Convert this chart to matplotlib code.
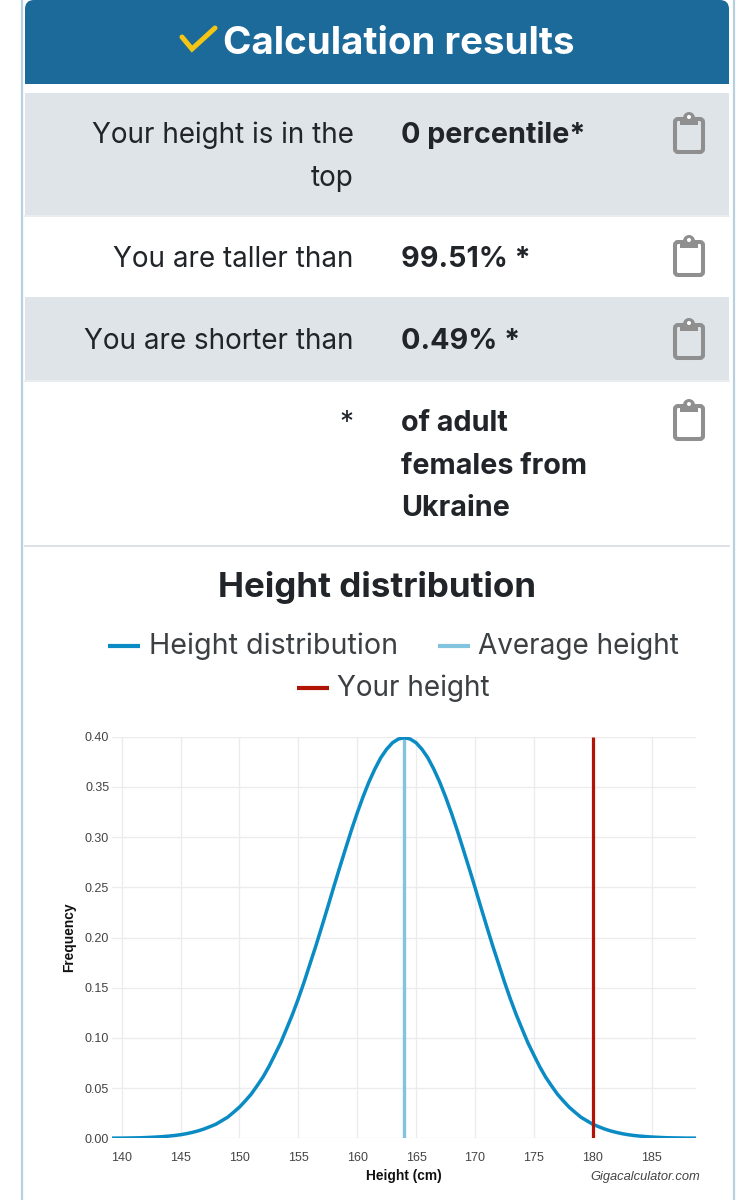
import matplotlib
matplotlib.use('Agg')
import matplotlib.pyplot as plt
from matplotlib.patches import Circle, FancyBboxPatch, Rectangle

# Curve values
heights = [139, 139.5, 140, 140.5, 141, 141.5, 142, 142.5, 143, 143.5, 144, 144.5, 145, 145.5,
           146, 146.5, 147, 147.5, 148, 148.5, 149, 149.5, 150, 150.5, 151, 151.5, 152, 152.5,
           153, 153.5, 154, 154.5, 155, 155.5, 156, 156.5, 157, 157.5, 158, 158.5, 159, 159.5,
           160, 160.5, 161, 161.5, 162, 162.5, 163, 163.5, 164, 164.5, 165, 165.5, 166, 166.5,
           167, 167.5, 168, 168.5, 169, 169.5, 170, 170.5, 171, 171.5, 172, 172.5, 173, 173.5,
           174, 174.5, 175, 175.5, 176, 176.5, 177, 177.5, 178, 178.5, 179, 179.5, 180, 180.5,
           181, 181.5, 182, 182.5, 183, 183.5, 184, 184.5, 185, 185.5, 186, 186.5, 187, 187.5,
           188, 188.5, 189]
frequency = [0.0001, 0.0002, 0.0002, 0.0003, 0.0004, 0.0005, 0.0007, 0.0010, 0.0013, 0.0017,
             0.0022, 0.0028, 0.0036, 0.0046, 0.0059, 0.0074, 0.0093, 0.0116, 0.0140, 0.0175,
             0.0210, 0.0259, 0.0310, 0.0373, 0.0440, 0.0523, 0.0610, 0.0713, 0.0830, 0.0950,
             0.1090, 0.1233, 0.1390, 0.1559, 0.1740, 0.1920, 0.2110, 0.2303, 0.2500, 0.2692,
             0.2880, 0.3066, 0.3240, 0.3402, 0.3550, 0.3678, 0.3790, 0.3875, 0.3940, 0.3977,
             0.3990, 0.3977, 0.3940, 0.3875, 0.3790, 0.3678, 0.3550, 0.3402, 0.3240, 0.3066,
             0.2880, 0.2692, 0.2500, 0.2303, 0.2110, 0.1920, 0.1740, 0.1559, 0.1390, 0.1233,
             0.1090, 0.0950, 0.0830, 0.0713, 0.0610, 0.0523, 0.0440, 0.0373, 0.0310, 0.0259,
             0.0210, 0.0175, 0.0140, 0.0116, 0.0093, 0.0074, 0.0059, 0.0046, 0.0036, 0.0028,
             0.0022, 0.0017, 0.0013, 0.0010, 0.0007, 0.0005, 0.0004, 0.0003, 0.0002, 0.0002,
             0.0001]
average_height = 164
your_height = 180
x_ticks = [140, 145, 150, 155, 160, 165, 170, 175, 180, 185]
y_ticks = [0.00, 0.05, 0.10, 0.15, 0.20, 0.25, 0.30, 0.35, 0.40]

row_labels = ['Your height is in the\ntop', 'You are taller than', 'You are shorter than', '*']
row_values = ['0 percentile*', '99.51% *', '0.49% *', 'of adult\nfemales from\nUkraine']

BLUE = '#0a8bc4'
LIGHT = '#82c4dd'
RED = '#b01405'
TEXT = '#212529'
GREY_ROW = '#dee4e8'
ICON = '#8f8f8f'

W, H = 754, 1200
fig = plt.figure(figsize=(W / 100, H / 100), dpi=100, facecolor='white')
plt.rcParams['font.family'] = ['Inter', 'DejaVu Sans']

# Page furniture in pixel coordinates
page = fig.add_axes([0, 0, 1, 1])
page.set_xlim(0, W)
page.set_ylim(H, 0)
page.axis('off')

page.plot([22, 22], [0, H], color='#b7d0e0', lw=1.6)
page.plot([733.5, 733.5], [0, H], color='#b7d0e0', lw=1.6)

page.add_patch(FancyBboxPatch((25, 0), 704, 60, boxstyle='round,pad=0,rounding_size=9',
                              fc='#1c6a9a', ec='none'))
page.add_patch(Rectangle((25, 30), 704, 54, fc='#1c6a9a', ec='none'))
page.plot([182, 192, 215], [37, 49, 28], color='#f3c614', lw=3.6,
          solid_capstyle='round', solid_joinstyle='miter')
page.text(399, 54, 'Calculation results', color='white', fontsize=27.7, fontweight='bold',
          ha='center', va='baseline')

page.add_patch(Rectangle((25, 93), 704, 122, fc=GREY_ROW, ec='none'))
page.add_patch(Rectangle((25, 297), 704, 83, fc=GREY_ROW, ec='none'))
page.plot([25, 729], [216, 216], color='#e6eaed', lw=1.2)
page.plot([25, 729], [381, 381], color='#e6eaed', lw=1.2)
page.plot([25, 729], [546, 546], color='#dee2e6', lw=1.4)

row_baselines = [143, 267, 349, 431]
line_step = 42.6
for label, value, base in zip(row_labels, row_values, row_baselines):
    for i, part in enumerate(label.split('\n')):
        page.text(353.5, base + i * line_step, part, color=TEXT, fontsize=20.05,
                  ha='right', va='baseline')
    for i, part in enumerate(value.split('\n')):
        page.text(401, base + i * line_step, part, color=TEXT, fontsize=20.7,
                  fontweight='bold', ha='left', va='baseline')

# Clipboard icons
for top in [112, 235, 318, 399]:
    page.add_patch(FancyBboxPatch((675, top + 7), 28, 33, boxstyle='round,pad=0,rounding_size=3',
                                  fc='none', ec=ICON, lw=2.9))
    page.add_patch(Rectangle((680, top + 6), 18, 7, fc=ICON, ec='none'))
    page.add_patch(Circle((689, top + 6), 6, fc=ICON, ec='none'))
    page.add_patch(Circle((689, top + 5), 2, fc='white', ec='none'))

# Chart title and legend
page.text(377, 597, 'Height distribution', color=TEXT, fontsize=25.2, fontweight='bold',
          ha='center', va='baseline')
legend_items = [('Height distribution', BLUE, 108, 149, 654, 20.6),
                ('Average height', LIGHT, 438, 478, 654, 20.1),
                ('Your height', RED, 297, 337, 696, 20.1)]
for name, colour, x0, x1, base, size in legend_items:
    page.plot([x0, x0 + 32], [base - 8, base - 8], color=colour, lw=3.0, solid_capstyle='butt')
    page.text(x1, base, name, color='#3c4043', fontsize=size, ha='left', va='baseline')

# Chart
left, right, top, bottom = 112, 696, 736.7, 1138.3
ax = fig.add_axes([left / W, 1 - bottom / H, (right - left) / W, (bottom - top) / H])
ax.patch.set_alpha(0)
ax.set_xlim(139.18, 188.77)
ax.set_ylim(0, 0.40)
ax.set_xticks(x_ticks)
ax.set_yticks(y_ticks)
ax.set_yticklabels([f'{v:.2f}' for v in y_ticks])
ax.grid(True, color='#ececef', lw=1.0)
ax.set_axisbelow(True)
ax.tick_params(length=0, labelsize=9, labelcolor='#444444')
ax.tick_params(axis='x', pad=10)
ax.tick_params(axis='y', pad=2)
for label in ax.get_xticklabels() + ax.get_yticklabels():
    label.set_fontfamily(['Liberation Sans', 'DejaVu Sans'])
for spine in ax.spines.values():
    spine.set_visible(False)

ax.plot(heights, frequency, color=BLUE, lw=2.5, solid_joinstyle='round', zorder=3)
ax.plot([average_height, average_height], [0, 0.40], color=LIGHT, lw=2.4, zorder=2,
        solid_capstyle='butt')
ax.plot([your_height, your_height], [0, 0.40], color=RED, lw=2.3, zorder=4,
        solid_capstyle='butt')

page.text(69.5, 937, 'Frequency', color='#111111', fontsize=9.9, fontweight='bold', rotation=90,
          ha='center', va='center', family=['Liberation Sans', 'DejaVu Sans'])
page.text(404, 1180, 'Height (cm)', color='#111111', fontsize=9.9, fontweight='bold',
          ha='center', va='baseline', family=['Liberation Sans', 'DejaVu Sans'])
page.text(700, 1180, 'Gigacalculator.com', color='#444444', fontsize=9.3, style='italic',
          ha='right', va='baseline', family=['Liberation Sans', 'DejaVu Sans'])

fig.savefig('out.png', dpi=100, facecolor='white')
